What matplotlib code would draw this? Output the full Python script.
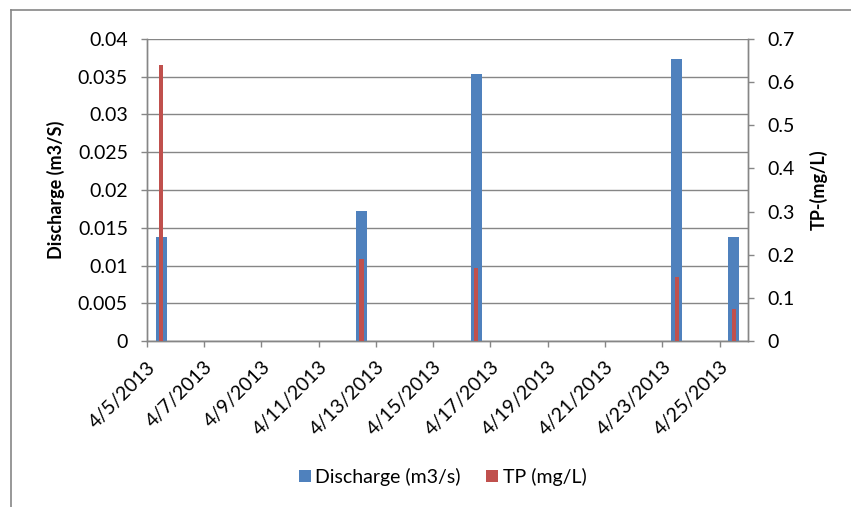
import datetime as dt
import matplotlib

matplotlib.use("Agg")
import matplotlib.pyplot as plt
import matplotlib.transforms as mtransforms
from matplotlib.lines import Line2D

plt.rcParams["font.family"] = ["Lato", "DejaVu Sans"]

# sampling days and measured values
sample_dates = ["2013-04-05", "2013-04-12", "2013-04-16", "2013-04-23", "2013-04-25"]
discharge = [0.0138, 0.0172, 0.0353, 0.0373, 0.0138]   # m3/s
tp = [0.640, 0.189, 0.170, 0.149, 0.075]               # mg/L

start = dt.datetime(2013, 4, 5)
end = dt.datetime(2013, 4, 26)
tick_days = [start + dt.timedelta(days=d) for d in range(0, 21, 2)]
tick_labels = [f"{d.month}/{d.day}/{d.year}" for d in tick_days]

BLUE = "#4F81BD"
RED = "#C0504D"
GRID = "#868686"
FS = 14

# bars sit in the middle of each day slot
xs = [dt.datetime.strptime(s, "%Y-%m-%d") + dt.timedelta(hours=12) for s in sample_dates]

fig = plt.figure(figsize=(8.51, 5.07), dpi=100)
ax = fig.add_axes([0.1724, 0.3274, 0.7069, 0.5957])
ax2 = ax.twinx()

ax.bar(xs, discharge, width=0.385, color=BLUE, zorder=3)
ax2.bar(xs, tp, width=0.15, color=RED, zorder=3)

ax.set_xlim(start, end)
ax.set_ylim(0, 0.04)
ax.set_yticks([0, 0.005, 0.01, 0.015, 0.02, 0.025, 0.03, 0.035, 0.04])
ax.set_yticklabels(["0", "0.005", "0.01", "0.015", "0.02", "0.025", "0.03", "0.035", "0.04"])
ax2.set_ylim(0, 0.7)
ax2.set_yticks([0, 0.1, 0.2, 0.3, 0.4, 0.5, 0.6, 0.7])
ax2.set_yticklabels(["0", "0.1", "0.2", "0.3", "0.4", "0.5", "0.6", "0.7"])

ax.set_xticks(tick_days)
ax.set_xticklabels(tick_labels, rotation=45, ha="right", va="top",
                   rotation_mode="anchor")
# nudge the slanted date labels so their ends sit a little right of the ticks
shift = mtransforms.ScaledTranslation(0.15, 0, fig.dpi_scale_trans)
for lbl in ax.get_xticklabels():
    lbl.set_transform(lbl.get_transform() + shift)

ax.grid(axis="y", color=GRID, linewidth=1.0, zorder=0)
ax.set_axisbelow(True)

for a in (ax, ax2):
    a.spines["top"].set_visible(False)
    for side in ("left", "right", "bottom"):
        a.spines[side].set_color(GRID)
        a.spines[side].set_linewidth(1.0)
    a.tick_params(colors=GRID, labelcolor="black", labelsize=FS, length=4.5,
                  width=1.0, direction="out")
ax.tick_params(axis="y", pad=9)
ax.tick_params(axis="x", pad=8)
ax2.tick_params(axis="y", pad=9)

ax.set_ylabel("Discharge (m3/S)", fontsize=13, fontweight="bold", labelpad=9)
ax2.set_ylabel("TP-(mg/L)", fontsize=13, fontweight="bold", labelpad=11)

# square legend keys
handles = [Line2D([], [], linestyle="none", marker="s", markersize=8,
                  markerfacecolor=BLUE, markeredgewidth=0, label="Discharge (m3/s)"),
           Line2D([], [], linestyle="none", marker="s", markersize=8,
                  markerfacecolor=RED, markeredgewidth=0, label="TP (mg/L)")]
fig.legend(handles=handles, loc="center", bbox_to_anchor=(0.52, 0.06),
           ncol=2, frameon=False, fontsize=FS, handlelength=0.6,
           handletextpad=0.25, columnspacing=1.3)

# chart-area border (partly outside the canvas)
fig.add_artist(Line2D([11 / 851, 11 / 851], [0, 1 - 10 / 507], color=GRID,
                      linewidth=1.2, transform=fig.transFigure))
fig.add_artist(Line2D([11 / 851, 1], [1 - 10 / 507, 1 - 10 / 507], color=GRID,
                      linewidth=1.2, transform=fig.transFigure))

fig.savefig("out.png", dpi=100)
